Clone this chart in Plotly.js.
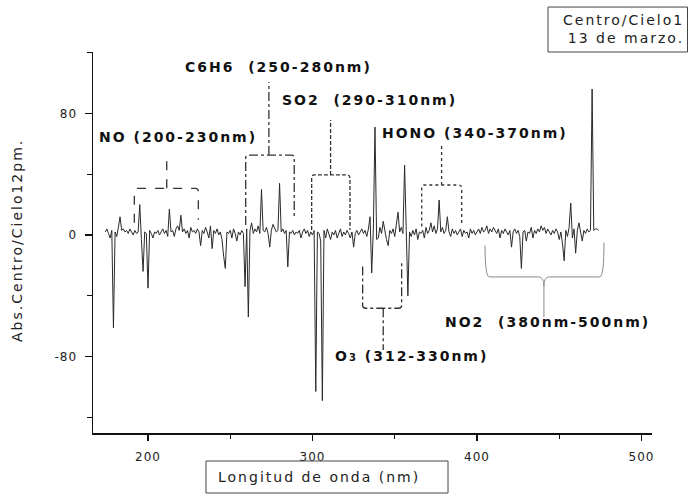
<!DOCTYPE html>
<html>
<head>
<meta charset="utf-8">
<script src="https://cdn.plot.ly/plotly-3.0.1.min.js"></script>
<style>
  html, body { margin: 0; padding: 0; background: #fff; }
  #chart { width: 688px; height: 497px; }
  .annotation-text { letter-spacing: 2px; }
  .xtick text, .ytick text { letter-spacing: 1px; }
</style>
</head>
<body>
<div id="chart"></div>
<script>
// ---- Data ----
const wavelengthStart = 174;   // nm, first sample
const wavelengthStep = 1;      // nm between samples
const absorbance = [
  2, 4, 1, -2, 3, -61, 2, -1, 5, 12,          // 174-183
  3, 4, 2, 3, 1, 4, 2, 0, 3, 1,               // 184-193
  2, 20, -3, -24, 2, 1, -35, 3, 1, -2,        // 194-203
  2, 1, 3, 0, 2, 4, 1, 3, -1, 17,             // 204-213
  2, 3, -1, 4, 6, 3, 13, 2, 4, 1,             // 214-223
  3, -2, 5, 2, 3, 1, 4, 2, -7, 3,             // 224-233
  1, 5, 2, -2, 6, -9, 3, 1, 4, 0,             // 234-243
  2, -3, -14, -22, 2, 1, 3, -2, 4, 1,         // 244-253
  -4, 2, 0, 3, 1, -34, 4, -54, 3, 8,          // 254-263
  1, 4, 2, 6, 1, 30, 3, 2, 5, 1,              // 264-273
  -8, 3, 7, 4, 2, 3, 34, 2, 4, 1,             // 274-283
  3, -21, 2, 1, 3, 0, 2, 1, 3, -2,            // 284-293
  2, 4, 1, 3, -1, 2, 0, 3, -103, 2,           // 294-303
  1, -4, -109, 3, -2, 4, 1, -3, 2, 0,         // 304-313
  3, -2, 1, 4, -1, 2, 0, 3, 1, -2,            // 314-323
  2, -8, 1, 3, 0, 2, 4, 1, 3, -1,             // 324-333
  4, 12, -25, 4, 71, -3, -2, 5, 1, 9,         // 334-343
  2, -3, -7, 3, 1, 4, -1, 6, 15, 2,           // 344-353
  5, 1, 46, 3, -40, 2, -1, 3, 0, 4,           // 354-363
  -3, 2, 1, 3, -2, 5, 1, 3, 8, 2,             // 364-373
  6, 1, 4, 23, 2, 5, 1, 3, 12, 2,             // 374-383
  -1, 4, 1, 3, 0, 2, 4, -1, 3, 1,             // 384-393
  2, -2, 4, 1, 3, 0, 2, 4, 1, 5,              // 394-403
  2, 3, 6, 1, 4, 2, 5, 3, 1, 4,               // 404-413
  -2, 3, 1, 4, 2, 0, 3, -8, 2, 4,             // 414-423
  1, 3, -1, -22, 2, 3, -4, 2, 1, 5,           // 424-433
  -2, 3, 1, 4, 2, 6, 3, 5, 1, 4,              // 434-443
  2, 0, 3, 1, 4, 2, -3, 2, -6, -17,           // 444-453
  3, -1, 5, 21, -2, 4, -12, 3, 8, 2,          // 454-463
  -4, 3, 1, 4, 2, 3, 96, 3, 4, 4,             // 464-473
  3                                           // 474
];
const xTickVals = [200, 300, 400, 500];
const xMinorTickVals = [250, 350, 450];
const yTickVals = [80, 0, -80];
const yTickText = ['80', '0', '-80'];
const yMinorTickVals = [120, 40, -40, -120];

// ---- Annotation brackets (layout decorations) ----
function boxPath(xl, xr, yl, yr, yt, xs, ys) {
  const rx = 1.8, s = yt > yl ? 1 : -1, ry = 2 * s;
  return `M ${xl},${yl} L ${xl},${yt - ry} Q ${xl},${yt} ${xl + rx},${yt} ` +
         `L ${xr - rx},${yt} Q ${xr},${yt} ${xr},${yt - ry} L ${xr},${yr} ` +
         `M ${xs},${yt} L ${xs},${ys}`;
}
function boxShape(path, dash) {
  return { type: 'path', xref: 'x', yref: 'y', path: path,
           line: { color: '#333', width: 1.3, dash: dash } };
}
const bracePath = 'M 404.9,-7 Q 404.9,-27.6 407.5,-27.6 L 437.5,-27.6 Q 440.7,-27.6 440.7,-34 ' +
                  'Q 440.7,-27.6 443.9,-27.6 L 474.6,-27.6 Q 477.2,-27.6 477.2,-5 ' +
                  'M 440.7,-34 L 440.7,-54';

const shapes = [
  boxShape(boxPath(191.7, 230.6, 8, 10, 30.7, 211.4, 52.6), 'dash'),        // NO
  boxShape(boxPath(259.4, 288.9, 6.6, 11, 52.6, 273.5, 100.7), 'dashdot'),  // C6H6
  boxShape(boxPath(299.5, 322.8, 3.3, 3.3, 39.5, 311, 75.7), '4px,2px'),    // SO2
  boxShape(boxPath(330.5, 354.2, -20.8, -18.4, -48.2, 343, -75.7), 'dashdot'), // O3
  boxShape(boxPath(366.4, 390.7, 5.5, 6.6, 32.9, 378.5, 59), 'dot'),        // HONO
  { type: 'path', xref: 'x', yref: 'y', path: bracePath,
    line: { color: '#8a8a8a', width: 1 } },                                  // NO2 brace
  { type: 'rect', xref: 'paper', yref: 'paper', x0: 0.814, x1: 1.0635, y0: 1.0, y1: 1.118,
    line: { color: '#444', width: 1 } },                                     // legend box
  { type: 'rect', xref: 'paper', yref: 'paper', x0: 0.2021, x1: 0.6351, y0: -0.1575, y1: -0.0735,
    line: { color: '#444', width: 1 } }                                      // x title box
];

const labelFont = { family: 'DejaVu Sans', size: 14, weight: 'bold', color: '#111' };
function label(text, x, y) {
  return { text: text, x: x, y: y, xref: 'x', yref: 'y', xanchor: 'left', yanchor: 'middle',
           showarrow: false, font: labelFont };
}
const annotations = [
  label('C6H6&nbsp; (250-280nm)', 221.3, 110.5),
  label('SO2&nbsp; (290-310nm)', 280.2, 88.8),
  label('NO (200-230nm)', 169, 64.5),
  label('HONO (340-370nm)', 341, 67.1),
  label('NO2&nbsp; (380nm-500nm)', 379.3, -57.2),
  label('O<span style="font-size:10px">3</span> (312-330nm)', 312.5, -79.6),
  { text: 'Centro/Cielo1<br>13 de marzo.', xref: 'paper', yref: 'paper', x: 1.0608, y: 1.0604,
    xanchor: 'right', yanchor: 'middle', align: 'right', showarrow: false,
    font: { family: 'DejaVu Sans', size: 14, color: '#222' } },
  { text: 'Longitud de onda (nm)', xref: 'paper', yref: 'paper', x: 0.4034, y: -0.1155,
    xanchor: 'center', yanchor: 'middle', showarrow: false,
    font: { family: 'DejaVu Sans', size: 14, color: '#222' } },
  { text: 'Abs.Centro/Cielo12pm.', xref: 'paper', yref: 'paper', x: -0.136, y: 0.5066,
    xanchor: 'center', yanchor: 'middle', textangle: -90, showarrow: false,
    font: { family: 'DejaVu Sans', size: 14, color: '#222' } }
];

const trace = {
  type: 'scatter', mode: 'lines',
  x0: wavelengthStart, dx: wavelengthStep, y: absorbance,
  line: { color: '#2a2a2a', width: 1 },
  hoverinfo: 'skip', showlegend: false
};

const layout = {
  width: 688, height: 497, autosize: false,
  margin: { l: 93, r: 36, t: 52, b: 64, pad: 0 },
  paper_bgcolor: '#ffffff', plot_bgcolor: '#ffffff',
  showlegend: false,
  xaxis: {
    range: [166.57, 506.4], showgrid: false, zeroline: false,
    showline: true, linecolor: '#111', linewidth: 1.5,
    ticks: 'outside', ticklen: 6, tickwidth: 1.2, tickcolor: '#111',
    tickvals: xTickVals, ticklabelstandoff: 6,
    minor: { tickvals: xMinorTickVals, ticks: 'outside', ticklen: 4, tickwidth: 1.2, tickcolor: '#111', showgrid: false },
    tickfont: { family: 'DejaVu Sans', size: 12, color: '#222' }
  },
  yaxis: {
    range: [-130.3, 120.4], showgrid: false, zeroline: false,
    showline: true, linecolor: '#111', linewidth: 1.5,
    ticks: 'outside', ticklen: 7, tickwidth: 1.2, tickcolor: '#111',
    tickvals: yTickVals, ticktext: yTickText, ticklabelstandoff: 5,
    minor: { tickvals: yMinorTickVals, ticks: 'outside', ticklen: 5, tickwidth: 1.2, tickcolor: '#111', showgrid: false },
    tickfont: { family: 'DejaVu Sans', size: 12, color: '#222' }
  },
  shapes: shapes,
  annotations: annotations
};

Plotly.newPlot('chart', [trace], layout, { staticPlot: true, displayModeBar: false });
</script>
</body>
</html>
